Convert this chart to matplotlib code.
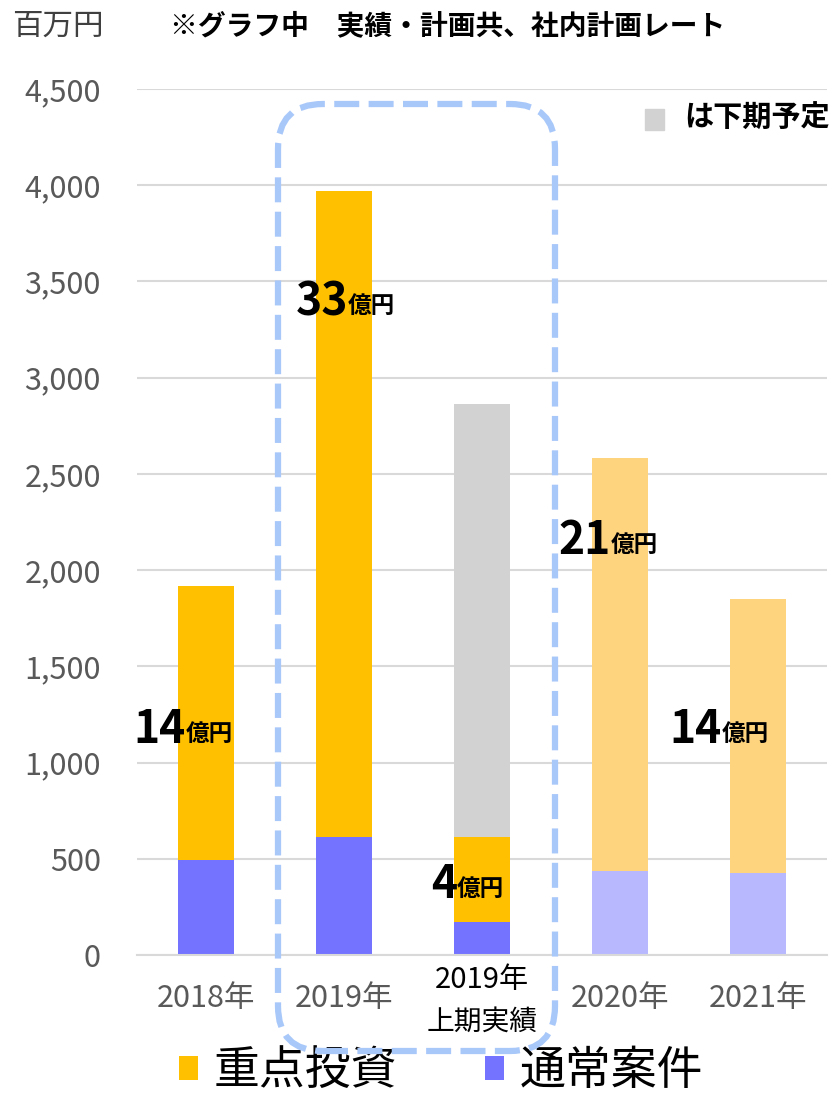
import numpy as np
import matplotlib
matplotlib.use('Agg')
import matplotlib.pyplot as plt
from matplotlib.patches import FancyBboxPatch, Rectangle
from matplotlib.ticker import FuncFormatter
import matplotlib.transforms as mtransforms

plt.rcParams['font.family'] = ['Noto Sans CJK JP', 'DejaVu Sans']

# 百万円
years = ['2018年', '2019年', '2019年\n上期実績', '2020年', '2021年']
normal = [492, 613, 171, 438, 428]          # 通常案件
focus = [1425, 3357, 444, 2143, 1422]       # 重点投資
second_half = [0, 0, 2248, 0, 0]            # 下期予定

# label anchor: x offset from bar centre, y in data units
label_pos = [(-0.145, 1170), (0.03, 3390), (-0.18, 365), (-0.07, 2150), (-0.26, 1170)]

focus_col = ['#FFC000', '#FFC000', '#FFC000', '#FFD47F', '#FFD47F']
normal_col = ['#7373FF', '#7373FF', '#7373FF', '#B8B8FF', '#B8B8FF']
grey = '#D2D2D2'
tick_col = '#595959'

W, H = 834, 1097
fig = plt.figure(figsize=(W / 100, H / 100), dpi=100)
ax = fig.add_axes([137 / W, 1 - 955 / H, 690 / W, 866 / H])

x = np.arange(len(years))
bw = 0.41
b1 = ax.bar(x, normal, bw, color=normal_col, zorder=2, label='通常案件')
b2 = ax.bar(x, focus, bw, bottom=normal, color=focus_col, zorder=2, label='重点投資')
bottom2 = np.array(normal) + np.array(focus)
ax.bar(x, second_half, bw, bottom=bottom2, color=grey, zorder=2)

ax.set_xlim(-0.5, 4.5)
ax.set_ylim(0, 4500)
ax.set_yticks(np.arange(0, 4501, 500))
ax.yaxis.set_major_formatter(FuncFormatter(lambda v, p: f'{int(v):,}'))
ax.grid(axis='y', color='#D9D9D9', lw=1.5, zorder=0)
ax.set_axisbelow(True)
for s in ['left', 'right', 'top']:
    ax.spines[s].set_visible(False)
ax.spines['bottom'].set_color('#D9D9D9')
ax.spines['bottom'].set_linewidth(1.5)
ax.tick_params(axis='y', length=0, pad=26, labelsize=22, labelcolor=tick_col)
ax.tick_params(axis='x', length=0, pad=20, labelsize=22, labelcolor=tick_col)
ax.set_xticks(x)
ax.set_xticklabels([y if '\n' not in y else '' for y in years])

# two-line label for the half-year actuals
trans = mtransforms.blended_transform_factory(ax.transData, ax.transAxes)
line1, line2 = years[2].split('\n')
ax.text(2, -25 / 866, line1, transform=trans, ha='center', va='center',
        fontsize=21, color='black')
ax.text(2, -67 / 866, line2, transform=trans, ha='center', va='center',
        fontsize=20, color='black')

# 億円 labels for 重点投資
for i, (dx, yy) in enumerate(label_pos):
    oku = int(focus[i] // 100)
    ax.text(x[i] + dx, yy, str(oku), ha='right', va='center', fontsize=32,
            fontweight='bold', color='black', zorder=5)
    ax.text(x[i] + dx, yy - 20, '億円', ha='left', va='center', fontsize=17,
            fontweight='bold', color='black', zorder=5)

# header texts
fig.text(12 / W, 1 - 26 / H, '百万円', fontsize=22, color='#404040', va='center')
fig.text(170 / W, 1 - 26 / H, '※グラフ中　実績・計画共、社内計画レート',
         fontsize=20, fontweight='bold', color='black', va='center')

# grey key
fig.add_artist(Rectangle((645 / W, 1 - 130 / H), 19 / W, 21 / H,
                         transform=fig.transFigure, color=grey))
fig.text(830 / W, 1 - 118 / H, 'は下期予定', fontsize=21, fontweight='bold',
         color='black', ha='right', va='center')

# dashed frame round 2019
frame = FancyBboxPatch((2.78, 0.46), 2.77, 9.47,
                       boxstyle='round,pad=0,rounding_size=0.45',
                       transform=fig.dpi_scale_trans, fill=False,
                       edgecolor='#A9C8FA', lw=4.5, linestyle=(0, (4, 1.5)),
                       clip_on=False, zorder=10)
fig.add_artist(frame)

fig.legend([b2, b1], ['重点投資', '通常案件'], loc='center',
           bbox_to_anchor=(441 / W, 1 - 1071 / H), ncol=2, frameon=False,
           fontsize=33, handlelength=0.42, handleheight=0.45,
           handletextpad=0.35, columnspacing=1.9, borderpad=0)

fig.savefig('out.png', dpi=100)
